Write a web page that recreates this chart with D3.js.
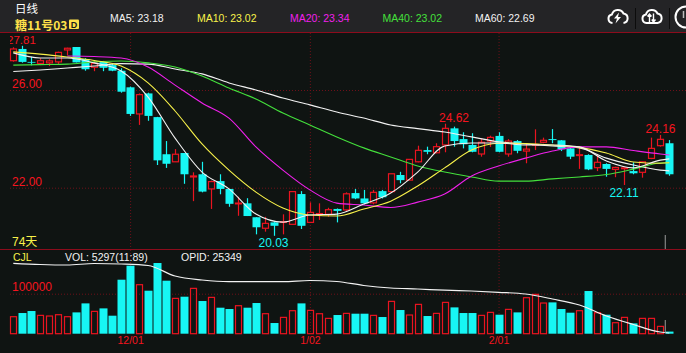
<!DOCTYPE html>
<html>
<head>
<meta charset="utf-8">
<script src="https://cdn.jsdelivr.net/npm/d3@7"></script>
<style>
  html, body { margin: 0; padding: 0; background: #0f1412; }
  svg { display: block; font-family: "Liberation Sans", Arial, sans-serif; }
  .grid line { stroke: #6e1019; stroke-dasharray: 1 2; }
  .grid path { display: none; }
  .dateAxis path, .dateAxis line { display: none; }
  .dateAxis text { fill: #f5141f; font-size: 10.5px; font-family: "Liberation Sans", Arial, sans-serif; }
</style>
</head>
<body>
<svg width="686" height="353"></svg>
<script>
// daily candles
const opens = [27.20,27.68,27.15,27.09,27.11,27.15,27.64,27.76,27.27,26.93,27.15,27.02,26.79,26.11,25.02,25.86,24.89,23.37,23.06,23.42,22.44,22.55,21.95,22.27,21.95,21.35,21.36,20.79,20.34,20.58,20.58,20.50,21.74,20.58,20.92,20.91,21.13,21.09,21.78,21.56,21.38,21.86,21.84,22.52,22.31,23.06,23.54,23.43,23.75,24.43,23.99,23.75,23.38,23.91,24.12,23.38,23.91,23.50,23.75,23.86,23.99,23.94,23.61,23.33,23.34,22.82,22.97,22.75,22.78,22.68,22.63,23.20,23.72,23.82];
const closes = [27.68,27.15,27.12,27.20,27.19,27.54,27.71,27.13,26.85,27.09,26.91,26.79,25.93,25.02,25.81,24.94,23.12,22.98,23.37,22.55,22.48,21.84,22.25,21.95,21.34,21.37,20.84,20.38,20.54,20.44,20.61,21.84,20.44,20.99,20.94,21.10,21.05,21.75,21.56,21.36,21.81,21.61,22.57,22.31,23.16,23.53,23.47,23.68,24.43,23.91,23.78,23.47,23.86,24.06,23.47,23.91,23.51,23.58,23.77,23.94,23.95,23.57,23.27,23.35,22.75,23.04,22.77,22.83,22.81,22.59,23.06,23.61,23.98,22.55];
const highs = [27.75,27.81,27.36,27.30,27.26,27.57,27.73,27.76,27.30,27.19,27.19,27.06,26.89,26.14,25.86,25.89,24.90,23.91,23.58,23.42,22.63,23.06,22.29,22.55,21.95,21.63,21.57,20.79,20.81,20.61,20.91,21.84,21.86,21.40,21.36,21.18,21.15,21.81,21.95,21.91,21.91,21.91,22.57,22.65,23.16,23.72,23.68,23.82,24.62,24.50,24.27,24.23,24.02,24.13,24.27,23.99,23.95,23.82,24.39,24.05,24.40,23.95,23.65,23.65,23.37,23.34,23.00,22.86,22.82,23.04,23.06,24.05,24.16,23.95];
const lows = [27.16,27.12,27.01,27.02,26.98,27.06,27.43,27.13,26.79,26.77,26.77,26.77,25.89,24.94,24.57,24.74,22.93,22.81,23.06,22.16,21.45,21.81,21.13,21.73,21.22,20.85,20.84,20.09,20.20,20.03,20.09,20.50,20.31,20.58,20.68,20.81,20.58,21.02,21.53,21.32,21.32,21.56,21.84,22.18,22.31,23.04,23.37,23.41,23.45,23.68,23.61,23.45,23.27,23.67,23.45,23.27,23.41,23.00,23.54,23.82,23.82,23.50,23.17,22.77,22.72,22.68,22.45,22.43,22.11,22.55,22.41,23.17,23.68,22.49];
const volumes = [42500,51700,56700,45800,44200,47500,42500,53300,75800,55800,63300,45000,135000,170000,122500,107500,176700,132500,88300,92500,113300,81700,90800,65000,61700,70000,65000,76700,50000,26700,40800,57500,75800,58300,50000,38300,46700,50800,50000,50000,45800,41700,80800,59200,46700,73300,44200,50800,78300,65800,51700,51700,45800,53300,47500,60800,53300,90000,98300,76700,78300,61700,52500,57500,106700,52500,47500,27500,40800,25800,38300,38300,18300,5297];

// line values are read every third candle, plus the last one
const lineIndex = [0,3,6,9,12,15,18,21,24,27,30,33,36,39,42,45,48,51,54,57,60,63,66,69,72,73];
const ma5 = [27.52,27.31,27.31,27.11,26.78,25.71,24.03,22.64,21.95,20.92,20.59,20.88,20.92,21.33,21.78,22.64,23.71,23.83,23.83,23.75,23.75,23.67,23.09,22.81,23.13,23.18];
const ma10 = [27.56,27.47,27.35,27.21,26.98,26.29,25.14,23.79,22.72,21.82,21.17,20.88,20.84,21.13,21.45,22.07,22.81,23.54,23.82,23.81,23.75,23.65,23.42,23.05,23.00,23.02];
const ma20 = [null,null,27.39,27.37,27.31,26.94,26.20,25.47,24.85,23.67,22.72,21.91,21.37,21.29,21.19,21.41,21.74,22.48,22.89,23.21,23.50,23.67,23.67,23.52,23.38,23.34];
const ma40 = [27.02,27.04,27.06,27.15,27.19,27.11,26.94,26.57,26.08,25.63,25.06,24.57,24.08,23.63,23.26,22.89,22.64,22.44,22.27,22.27,22.36,22.44,22.54,22.76,23.01,23.02];
const ma60 = [26.76,26.82,26.90,26.98,27.08,27.06,26.86,26.66,26.29,26.00,25.67,25.39,25.10,24.85,24.57,24.42,24.28,24.08,23.88,23.79,23.71,23.63,23.21,22.93,22.72,22.69];
const opid = [330000,324800,322600,329100,326900,320400,274500,257000,249600,249600,249600,254800,250500,233000,222000,217700,212400,208900,203200,195800,174000,147700,99700,62500,29700,25349];

const priceTicks = [26, 22];
const volTicks = [100000];
const dateIndex = [13, 33, 54];
const dateLabels = ["12/01", "1/02", "2/01"];
const maLabels = ["MA5: 23.18", "MA10: 23.02", "MA20: 23.34", "MA40: 23.02", "MA60: 22.69"];

const RED = "#ea1420", TEXTRED = "#f5141f", CYAN = "#17f6f4", YELLOW = "#f8f24a", MAGENTA = "#f020ec", GREEN = "#44e03c", WHITE = "#f2f2f2";
const BG = "#0f1412";

const svg = d3.select("svg");
const W = 686, H = 353;

const x = d3.scaleLinear().domain([0, 73]).range([13.3, 669.3]);
const yPrice = d3.scaleLinear().domain([22, 26]).range([187.7, 90]);
const yVol = d3.scaleLinear().domain([0, 100000]).range([333.7, 293.7]);
const yOpid = d3.scaleLinear().domain([25349, 330000]).range([333, 263.3]);
const cx = i => Math.round(x(i)) + 0.5;
// up bars get a stroke centred on half pixels, down bars a solid fill
const barLeft = d => d.up ? cx(d.i) - 3 : cx(d.i) - 4;
const barWidth = d => d.up ? 6 : 8;

// panels
svg.append("rect").attr("width", W).attr("height", H).attr("fill", BG);
svg.append("rect").attr("width", W).attr("height", 32).attr("fill", "#242426");
[32.5, 249.5].forEach(y => svg.append("line").attr("x1", 0).attr("x2", W).attr("y1", y).attr("y2", y)
    .attr("stroke", "#8c0c1c").attr("stroke-width", 1));

// dotted grid
svg.append("g").attr("class", "grid").attr("transform", "translate(10,0)")
    .call(d3.axisRight(yPrice).tickValues(priceTicks).tickSize(W - 10).tickFormat(""));
svg.append("g").attr("class", "grid").attr("transform", "translate(10,0)")
    .call(d3.axisRight(yVol).tickValues(volTicks).tickSize(W - 10).tickFormat(""));
svg.append("g").attr("class", "grid").attr("transform", "translate(0,33)")
    .call(d3.axisBottom(x).tickValues(dateIndex).tickSize(216).tickFormat(""));
svg.append("g").attr("class", "grid").attr("transform", "translate(0,250)")
    .call(d3.axisBottom(x).tickValues(dateIndex).tickSize(84).tickFormat(""));

// candles
const candles = d3.range(opens.length).map(i => ({i, o: opens[i], c: closes[i], h: highs[i], l: lows[i], v: volumes[i], up: closes[i] >= opens[i]}));
const cg = svg.append("g");
cg.selectAll("line").data(candles).enter().append("line")
    .attr("x1", d => cx(d.i)).attr("x2", d => cx(d.i))
    .attr("y1", d => yPrice(d.h)).attr("y2", d => yPrice(d.l))
    .attr("stroke", d => d.up ? RED : CYAN).attr("stroke-width", 1.2);
cg.selectAll("rect").data(candles).enter().append("rect")
    .attr("x", barLeft)
    .attr("width", barWidth)
    .attr("y", d => yPrice(Math.max(d.o, d.c)))
    .attr("height", d => Math.max(0.8, Math.abs(yPrice(d.o) - yPrice(d.c))))
    .attr("fill", d => d.up ? BG : CYAN)
    .attr("stroke", d => d.up ? RED : "none")
    .attr("stroke-width", 1.2);

// volume bars
svg.append("g").selectAll("rect").data(candles).enter().append("rect")
    .attr("x", barLeft)
    .attr("width", barWidth)
    .attr("y", d => yVol(d.v))
    .attr("height", d => yVol(0) - yVol(d.v))
    .attr("fill", d => d.up ? "none" : CYAN)
    .attr("stroke", d => d.up ? RED : "none")
    .attr("stroke-width", 1.2);

// moving averages and open interest
const priceLine = d3.line()
    .defined(d => d[1] !== null)
    .x(d => x(d[0])).y(d => yPrice(d[1]))
    .curve(d3.curveMonotoneX);
[[ma60, WHITE], [ma40, GREEN], [ma20, MAGENTA], [ma10, YELLOW], [ma5, WHITE]].forEach(([vals, col]) => {
    svg.append("path").datum(lineIndex.map((k, j) => [k, vals[j]]))
        .attr("d", priceLine).attr("fill", "none").attr("stroke", col).attr("stroke-width", 1.1);
});
svg.append("path").datum(lineIndex.map((k, j) => [k, opid[j]]))
    .attr("d", d3.line().x(d => x(d[0])).y(d => yOpid(d[1])).curve(d3.curveMonotoneX))
    .attr("fill", "none").attr("stroke", WHITE).attr("stroke-width", 1.2);

// grey cursor stubs near the right edge
[[235, 249], [320, 333]].forEach(([a, b]) => svg.append("line")
    .attr("x1", x(72.55)).attr("x2", x(72.55)).attr("y1", a).attr("y2", b)
    .attr("stroke", "#9a9a9a").attr("stroke-width", 1));

function label(txt, px, py, col, size, anchor) {
    return svg.append("text").attr("x", px).attr("y", py).attr("fill", col)
        .attr("font-size", size).attr("text-anchor", anchor || "start")
        .attr("dominant-baseline", "central").text(txt);
}

// header
label("日线", 15, 7.5, "#ffffff", 11.5).attr("font-family", "'Noto Sans CJK SC'");
label("糖11号03", 15, 24.5, "#ffe14a", 12).attr("font-family", "'Noto Sans CJK SC'").attr("font-weight", "bold");
svg.append("rect").attr("x", 69).attr("y", 19.5).attr("width", 10).attr("height", 9.5).attr("rx", 1).attr("fill", "#ffe14a");
label("D", 74, 24.5, "#1a1a1a", 9, "middle").attr("font-weight", "bold");
const maX = [110, 197, 290, 382.5, 475];
const maCol = [WHITE, YELLOW, MAGENTA, GREEN, WHITE];
maLabels.forEach((t, i) => label(t, maX[i], 17.5, maCol[i], 10.5));

// toolbar icons
const cloud = "M5.5 13.5 a4.3 4.3 0 0 1 -0.6 -8.5 a6.2 6.2 0 0 1 11.6 -1 a4.8 4.8 0 0 1 0 9.5";
const icon1 = svg.append("g").attr("transform", "translate(607,9.5)");
icon1.append("path").attr("d", cloud).attr("fill", "none").attr("stroke", "#fff").attr("stroke-width", 2);
icon1.append("path").attr("d", "M12 3 L7 9 H10 L8.5 14 L14 7.5 H11 Z").attr("fill", "#fff");
const icon2 = svg.append("g").attr("transform", "translate(641,9.5)");
icon2.append("path").attr("d", cloud + " Z").attr("fill", "none").attr("stroke", "#fff").attr("stroke-width", 2);
icon2.append("path").attr("d", "M8.5 13 V5 M6.5 7 L8.5 4.5 L10.5 7 M12.5 4 V12 M10.8 10 L12.5 12.5 L14.5 10").attr("fill", "none").attr("stroke", "#fff").attr("stroke-width", 1.4);
[635.5, 669.5].forEach(px => svg.append("line").attr("x1", px).attr("x2", px).attr("y1", 8).attr("y2", 29).attr("stroke", "#0c0c0c"));
svg.append("circle").attr("cx", 686).attr("cy", 17).attr("r", 10.5).attr("fill", "none").attr("stroke", "#fff").attr("stroke-width", 2);
svg.append("line").attr("x1", 683.5).attr("x2", 683.5).attr("y1", 11).attr("y2", 18).attr("stroke", "#bbb").attr("stroke-width", 1.5);

// value labels
svg.append("clipPath").attr("id", "leftClip").append("rect").attr("x", 10).attr("y", 33).attr("width", 60).attr("height", 20);
label("27.81", 7, 40, TEXTRED, 11.5).attr("clip-path", "url(#leftClip)");
priceTicks.forEach(v => label(v.toFixed(2), 12, yPrice(v) - 6, TEXTRED, 12));
label("24.62", 454, 118, TEXTRED, 12, "middle");
label("24.16", 660.5, 129, TEXTRED, 12, "middle");
label("20.03", 273.5, 243, CYAN, 12, "middle");
label("22.11", 624, 193, CYAN, 12, "middle");
label("74天", 12, 242, YELLOW, 12).attr("font-family", "'Liberation Sans','Noto Sans CJK SC'");

// lower panel labels
label("CJL", 13, 257, YELLOW, 10.5);
label("VOL: 5297(11:89)", 65, 257, WHITE, 10.5);
label("OPID: 25349", 181, 257, WHITE, 10.5);
volTicks.forEach(v => label(String(v), 12, yVol(v) - 6.5, TEXTRED, 12));

// date axis
svg.append("g").attr("class", "dateAxis").attr("transform", "translate(0,333)")
    .call(d3.axisBottom(x).tickValues(dateIndex).tickSize(0).tickPadding(4)
        .tickFormat((d, i) => dateLabels[i]));
</script>
</body>
</html>
